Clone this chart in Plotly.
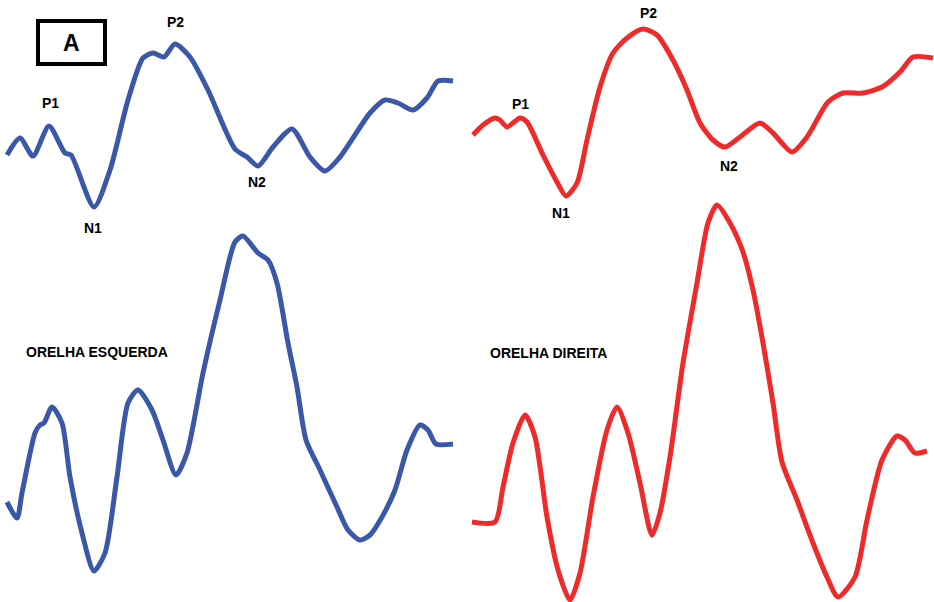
import plotly.graph_objects as go

# Waveform traces (horizontal position, vertical position on a downward axis)
left_top_x = [7, 20, 33, 49, 65, 71, 94, 110, 128, 143, 153, 164, 175, 190, 208, 235, 247, 258,
              273, 292, 310, 325, 340, 370, 385, 398, 413, 427, 438, 453]
left_top_y = [155, 138, 156, 126, 153, 155, 207, 170, 100, 58, 53, 57, 44, 57, 90, 149, 157, 166,
              147, 129, 157, 171, 157, 113, 100, 103, 110, 98, 81, 81]

left_bot_x = [7, 17, 22, 35, 40, 44, 52, 62, 70, 82, 94, 105, 117, 128, 138, 152, 163, 176, 187,
              203, 220, 235, 243, 258, 268, 277, 288, 297, 306, 320, 337, 348, 360, 370, 382, 395,
              407, 420, 428, 436, 453]
left_bot_y = [502, 518, 493, 433, 425, 423, 407, 423, 477, 533, 571, 553, 477, 403, 390, 410, 440,
              475, 453, 373, 300, 242, 236, 253, 260, 283, 343, 387, 440, 470, 507, 530, 540, 535,
              517, 490, 450, 425, 430, 444, 444]

right_top_x = [473, 483, 495, 500, 507, 520, 527, 543, 557, 566, 577, 587, 600, 613, 627, 643, 657,
               673, 687, 700, 713, 725, 740, 760, 773, 792, 807, 828, 843, 863, 882, 900, 913, 933]
right_top_y = [135, 125, 118, 120, 127, 118, 122, 155, 182, 196, 183, 140, 87, 53, 38, 29, 35, 60,
               90, 123, 140, 147, 137, 123, 133, 152, 137, 102, 93, 93, 87, 72, 57, 58]

right_bot_x = [472, 495, 503, 513, 525, 535, 547, 558, 570, 580, 593, 607, 617, 628, 640, 652, 660,
               670, 683, 697, 708, 717, 730, 743, 753, 763, 773, 782, 797, 813, 827, 838, 855, 867,
               882, 897, 905, 915, 927]
right_bot_y = [522, 522, 487, 443, 415, 437, 517, 570, 600, 573, 497, 430, 407, 433, 483, 535, 513,
               457, 363, 283, 223, 205, 223, 252, 290, 343, 403, 462, 500, 543, 577, 597, 577, 520,
               460, 436, 440, 453, 451]

# Component labels: (text, x, y)
left_labels = [("P1", 50, 103), ("N1", 93, 228), ("P2", 175, 22), ("N2", 257, 182),
               ("ORELHA ESQUERDA", 97, 352)]
right_labels = [("P1", 520, 104), ("N1", 561, 213), ("P2", 648, 13), ("N2", 729, 166),
                ("ORELHA DIREITA", 548, 353)]

BLUE = "rgb(59,88,168)"
RED = "rgb(238,42,42)"

fig = go.Figure()
for xs, ys, col in [(left_top_x, left_top_y, BLUE), (left_bot_x, left_bot_y, BLUE),
                    (right_top_x, right_top_y, RED), (right_bot_x, right_bot_y, RED)]:
    fig.add_trace(go.Scatter(x=xs, y=ys, mode="lines",
                             line=dict(color=col, width=5, shape="spline", smoothing=0.7),
                             hoverinfo="skip", showlegend=False))

for text, x, y in left_labels + right_labels:
    fig.add_annotation(x=x, y=y, text=f"<b>{text}</b>", showarrow=False,
                       font=dict(family="Liberation Sans, Arial, sans-serif", size=14, color="black"))

# Panel tag
fig.add_shape(type="rect", x0=38, x1=105, y0=21, y1=64, line=dict(color="black", width=4))
fig.add_annotation(x=71.5, y=43, text="<b>A</b>", showarrow=False,
                   font=dict(family="Liberation Sans, Arial, sans-serif", size=23, color="black"))

fig.update_xaxes(range=[0, 934], visible=False, fixedrange=True)
fig.update_yaxes(range=[602, 0], visible=False, fixedrange=True)
fig.update_layout(width=934, height=602, margin=dict(l=0, r=0, t=0, b=0),
                  plot_bgcolor="white", paper_bgcolor="white")

fig.write_html("out.html")
